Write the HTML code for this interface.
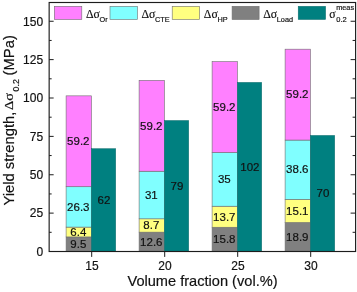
<!DOCTYPE html><html><head><meta charset="utf-8"><style>html,body{margin:0;padding:0;background:#fff;overflow:hidden}text{stroke:#111;stroke-width:.18px}</style></head><body><svg width="357" height="292" viewBox="0 0 357 292" style="display:block;will-change:transform;opacity:0.999" font-family="'Liberation Sans', Arial, sans-serif" fill="#111">
<rect width="357" height="292" fill="#fff"/>
<rect x="66.10" y="236.92" width="25.3" height="14.58" fill="#808080" stroke="#6e6e6e" stroke-width="0.6"/>
<text x="78.30" y="248.01" font-size="11.5" text-anchor="middle">9.5</text>
<rect x="66.10" y="227.09" width="25.3" height="9.82" fill="#ffff80" stroke="#6e6e6e" stroke-width="0.6"/>
<text x="78.30" y="235.81" font-size="11.5" text-anchor="middle">6.4</text>
<rect x="66.10" y="186.72" width="25.3" height="40.37" fill="#80ffff" stroke="#6e6e6e" stroke-width="0.6"/>
<text x="78.30" y="210.71" font-size="11.5" text-anchor="middle">26.3</text>
<rect x="66.10" y="95.85" width="25.3" height="90.87" fill="#ff80ff" stroke="#6e6e6e" stroke-width="0.6"/>
<text x="78.30" y="145.09" font-size="11.5" text-anchor="middle">59.2</text>
<rect x="91.40" y="148.72" width="24.3" height="102.78" fill="#008080" stroke="#0a6a6a" stroke-width="0.5"/>
<text x="103.90" y="203.91" font-size="11.5" text-anchor="middle">62</text>
<rect x="139.10" y="232.16" width="25.3" height="19.34" fill="#808080" stroke="#6e6e6e" stroke-width="0.6"/>
<text x="151.30" y="245.63" font-size="11.5" text-anchor="middle">12.6</text>
<rect x="139.10" y="218.80" width="25.3" height="13.35" fill="#ffff80" stroke="#6e6e6e" stroke-width="0.6"/>
<text x="151.30" y="229.28" font-size="11.5" text-anchor="middle">8.7</text>
<rect x="139.10" y="171.22" width="25.3" height="47.59" fill="#80ffff" stroke="#6e6e6e" stroke-width="0.6"/>
<text x="151.30" y="198.81" font-size="11.5" text-anchor="middle">31</text>
<rect x="139.10" y="80.35" width="25.3" height="90.87" fill="#ff80ff" stroke="#6e6e6e" stroke-width="0.6"/>
<text x="151.30" y="129.58" font-size="11.5" text-anchor="middle">59.2</text>
<rect x="164.40" y="120.53" width="24.3" height="130.97" fill="#008080" stroke="#0a6a6a" stroke-width="0.5"/>
<text x="176.90" y="189.82" font-size="11.5" text-anchor="middle">79</text>
<rect x="212.10" y="227.25" width="25.3" height="24.25" fill="#808080" stroke="#6e6e6e" stroke-width="0.6"/>
<text x="224.30" y="243.17" font-size="11.5" text-anchor="middle">15.8</text>
<rect x="212.10" y="206.22" width="25.3" height="21.03" fill="#ffff80" stroke="#6e6e6e" stroke-width="0.6"/>
<text x="224.30" y="220.53" font-size="11.5" text-anchor="middle">13.7</text>
<rect x="212.10" y="152.49" width="25.3" height="53.72" fill="#80ffff" stroke="#6e6e6e" stroke-width="0.6"/>
<text x="224.30" y="183.16" font-size="11.5" text-anchor="middle">35</text>
<rect x="212.10" y="61.62" width="25.3" height="90.87" fill="#ff80ff" stroke="#6e6e6e" stroke-width="0.6"/>
<text x="224.30" y="110.86" font-size="11.5" text-anchor="middle">59.2</text>
<rect x="237.40" y="82.40" width="24.3" height="169.10" fill="#008080" stroke="#0a6a6a" stroke-width="0.5"/>
<text x="249.90" y="170.75" font-size="11.5" text-anchor="middle">102</text>
<rect x="285.10" y="222.49" width="25.3" height="29.01" fill="#808080" stroke="#6e6e6e" stroke-width="0.6"/>
<text x="297.30" y="240.79" font-size="11.5" text-anchor="middle">18.9</text>
<rect x="285.10" y="199.31" width="25.3" height="23.18" fill="#ffff80" stroke="#6e6e6e" stroke-width="0.6"/>
<text x="297.30" y="214.70" font-size="11.5" text-anchor="middle">15.1</text>
<rect x="285.10" y="140.06" width="25.3" height="59.25" fill="#80ffff" stroke="#6e6e6e" stroke-width="0.6"/>
<text x="297.30" y="173.48" font-size="11.5" text-anchor="middle">38.6</text>
<rect x="285.10" y="49.19" width="25.3" height="90.87" fill="#ff80ff" stroke="#6e6e6e" stroke-width="0.6"/>
<text x="297.30" y="98.42" font-size="11.5" text-anchor="middle">59.2</text>
<rect x="310.40" y="135.45" width="24.3" height="116.05" fill="#008080" stroke="#0a6a6a" stroke-width="0.5"/>
<text x="322.90" y="197.28" font-size="11.5" text-anchor="middle">70</text>
<rect x="49.15" y="2.5" width="306.45000000000005" height="249.0" fill="none" stroke="#1c1c1c" stroke-width="1.15"/>
<text x="43.15" y="255.80" font-size="12" text-anchor="end">0</text>
<line x1="49.15" y1="232.31" x2="51.65" y2="232.31" stroke="#1c1c1c" stroke-width="1"/>
<line x1="352.6" y1="232.31" x2="355.6" y2="232.31" stroke="#1c1c1c" stroke-width="1"/>
<line x1="49.15" y1="213.12" x2="53.65" y2="213.12" stroke="#1c1c1c" stroke-width="1"/>
<line x1="350.6" y1="213.12" x2="355.6" y2="213.12" stroke="#1c1c1c" stroke-width="1"/>
<text x="43.15" y="217.43" font-size="12" text-anchor="end">25</text>
<line x1="49.15" y1="193.94" x2="51.65" y2="193.94" stroke="#1c1c1c" stroke-width="1"/>
<line x1="352.6" y1="193.94" x2="355.6" y2="193.94" stroke="#1c1c1c" stroke-width="1"/>
<line x1="49.15" y1="174.75" x2="53.65" y2="174.75" stroke="#1c1c1c" stroke-width="1"/>
<line x1="350.6" y1="174.75" x2="355.6" y2="174.75" stroke="#1c1c1c" stroke-width="1"/>
<text x="43.15" y="179.05" font-size="12" text-anchor="end">50</text>
<line x1="49.15" y1="155.56" x2="51.65" y2="155.56" stroke="#1c1c1c" stroke-width="1"/>
<line x1="352.6" y1="155.56" x2="355.6" y2="155.56" stroke="#1c1c1c" stroke-width="1"/>
<line x1="49.15" y1="136.38" x2="53.65" y2="136.38" stroke="#1c1c1c" stroke-width="1"/>
<line x1="350.6" y1="136.38" x2="355.6" y2="136.38" stroke="#1c1c1c" stroke-width="1"/>
<text x="43.15" y="140.68" font-size="12" text-anchor="end">75</text>
<line x1="49.15" y1="117.19" x2="51.65" y2="117.19" stroke="#1c1c1c" stroke-width="1"/>
<line x1="352.6" y1="117.19" x2="355.6" y2="117.19" stroke="#1c1c1c" stroke-width="1"/>
<line x1="49.15" y1="98.00" x2="53.65" y2="98.00" stroke="#1c1c1c" stroke-width="1"/>
<line x1="350.6" y1="98.00" x2="355.6" y2="98.00" stroke="#1c1c1c" stroke-width="1"/>
<text x="43.15" y="102.30" font-size="12" text-anchor="end">100</text>
<line x1="49.15" y1="78.81" x2="51.65" y2="78.81" stroke="#1c1c1c" stroke-width="1"/>
<line x1="352.6" y1="78.81" x2="355.6" y2="78.81" stroke="#1c1c1c" stroke-width="1"/>
<line x1="49.15" y1="59.62" x2="53.65" y2="59.62" stroke="#1c1c1c" stroke-width="1"/>
<line x1="350.6" y1="59.62" x2="355.6" y2="59.62" stroke="#1c1c1c" stroke-width="1"/>
<text x="43.15" y="63.92" font-size="12" text-anchor="end">125</text>
<line x1="49.15" y1="40.44" x2="51.65" y2="40.44" stroke="#1c1c1c" stroke-width="1"/>
<line x1="352.6" y1="40.44" x2="355.6" y2="40.44" stroke="#1c1c1c" stroke-width="1"/>
<line x1="49.15" y1="21.25" x2="53.65" y2="21.25" stroke="#1c1c1c" stroke-width="1"/>
<line x1="350.6" y1="21.25" x2="355.6" y2="21.25" stroke="#1c1c1c" stroke-width="1"/>
<text x="43.15" y="25.55" font-size="12" text-anchor="end">150</text>
<line x1="91.7" y1="251.5" x2="91.7" y2="256.9" stroke="#1c1c1c" stroke-width="1"/>
<text x="92.0" y="270.3" font-size="12" text-anchor="middle">15</text>
<line x1="164.7" y1="251.5" x2="164.7" y2="256.9" stroke="#1c1c1c" stroke-width="1"/>
<text x="165.0" y="270.3" font-size="12" text-anchor="middle">20</text>
<line x1="237.7" y1="251.5" x2="237.7" y2="256.9" stroke="#1c1c1c" stroke-width="1"/>
<text x="238.0" y="270.3" font-size="12" text-anchor="middle">25</text>
<line x1="310.7" y1="251.5" x2="310.7" y2="256.9" stroke="#1c1c1c" stroke-width="1"/>
<text x="311.0" y="270.3" font-size="12" text-anchor="middle">30</text>
<text x="202.5" y="286.4" font-size="14.6" text-anchor="middle">Volume fraction (vol.%)</text>
<g transform="translate(13.8,205.6) rotate(-90)"><text x="0" y="0" font-size="14.8">Yield strength,</text><text x="95.7" y="-0.4" font-size="13.5" textLength="17" lengthAdjust="spacingAndGlyphs" font-family="'Liberation Serif', serif">Δσ</text><text x="114.2" y="5.1" font-size="8.8">0.2</text><text x="130.2" y="0" font-size="14.8">(MPa)</text></g>
<rect x="54.3" y="6.3" width="27.5" height="13.2" fill="#ff80ff" stroke="#6e6e6e" stroke-width="0.6"/>
<text x="86.0" y="17.8" font-size="11.8" font-family="'Liberation Serif', serif">Δσ</text>
<text x="99.6" y="22" font-size="7.3">Or</text>
<rect x="110" y="6.3" width="27.5" height="13.2" fill="#80ffff" stroke="#6e6e6e" stroke-width="0.6"/>
<text x="141.5" y="17.8" font-size="11.8" font-family="'Liberation Serif', serif">Δσ</text>
<text x="155.1" y="22" font-size="7.3">CTE</text>
<rect x="172.2" y="6.3" width="27.4" height="13.2" fill="#ffff80" stroke="#6e6e6e" stroke-width="0.6"/>
<text x="203.8" y="17.8" font-size="11.8" font-family="'Liberation Serif', serif">Δσ</text>
<text x="217.4" y="22" font-size="7.3">HP</text>
<rect x="232.1" y="6.3" width="27.0" height="13.2" fill="#808080" stroke="#6e6e6e" stroke-width="0.6"/>
<text x="263.2" y="17.8" font-size="11.8" font-family="'Liberation Serif', serif">Δσ</text>
<text x="276.8" y="22" font-size="7.3">Load</text>
<rect x="298.2" y="6.3" width="27.4" height="13.2" fill="#008080" stroke="#0a6a6a" stroke-width="0.5"/>
<text x="329.3" y="17.8" font-size="11.8" font-family="'Liberation Serif', serif">σ</text>
<text x="336.3" y="22.3" font-size="7.5">0.2</text>
<text x="336.2" y="9.7" font-size="7.3">meas</text>
</svg></body></html>
